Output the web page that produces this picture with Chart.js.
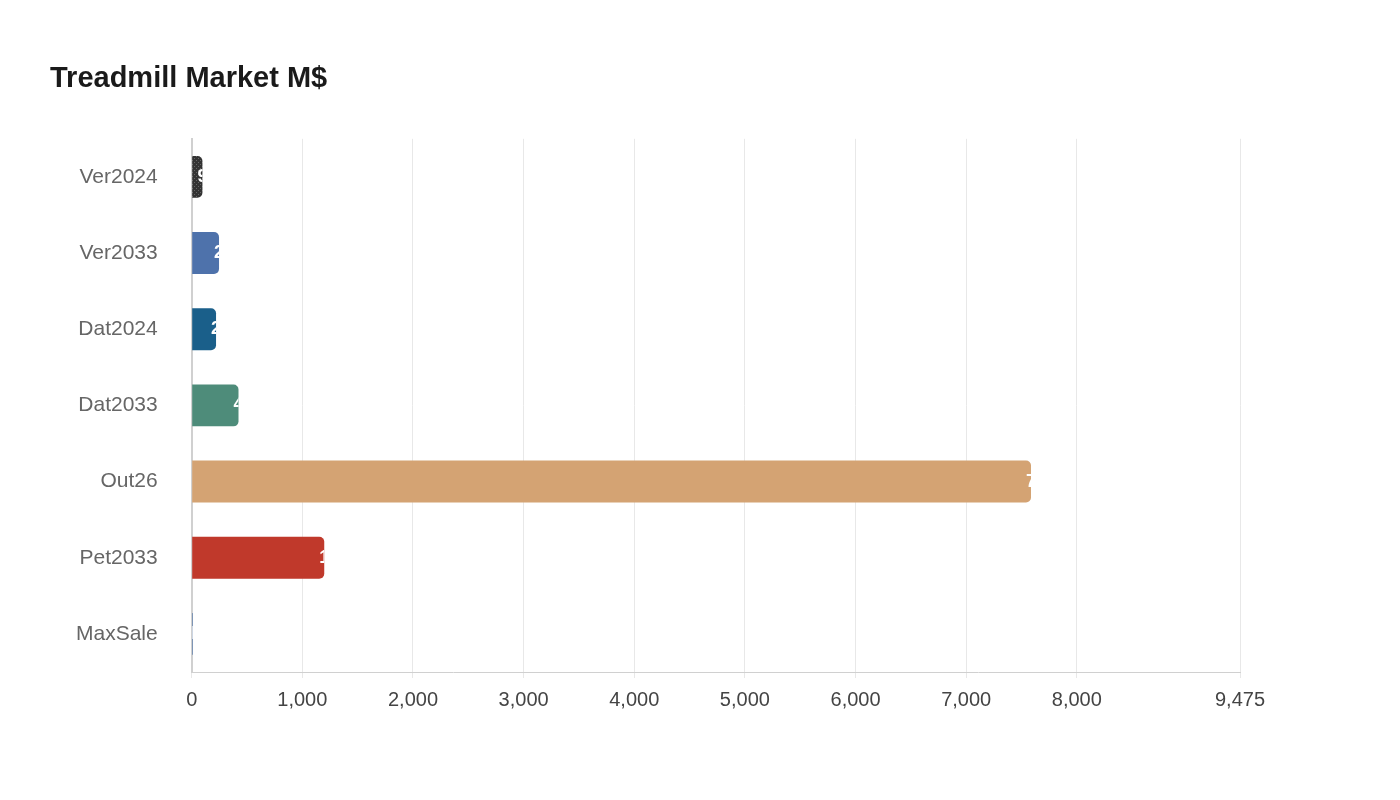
<!DOCTYPE html>
<html><head><meta charset="utf-8">
<script src="https://cdn.jsdelivr.net/npm/chart.js@4"></script>
<style>body{margin:0;background:#fff}#wrap{width:1400px;height:800px}</style>
</head><body><div id="wrap"><canvas id="c"></canvas></div>
<script>
const labels = ["Ver2024", "Ver2033", "Dat2024", "Dat2033", "Out26", "Pet2033", "MaxSale"];
const values = [97, 247, 220, 423, 7586, 1198, 10];
const colors = ["#333333", "#4e72ab", "#1a5f8a", "#4e8c7a", "#d4a373", "#c0392b", "#4a6fa5"];
const tickValues = [0, 1000, 2000, 3000, 4000, 5000, 6000, 7000, 8000, 9475];

function dotPattern(base) {
  const p = document.createElement("canvas");
  p.width = p.height = 4;
  const g = p.getContext("2d");
  g.fillStyle = base; g.fillRect(0, 0, 4, 4);
  g.fillStyle = "#666"; g.fillRect(0, 0, 1, 1); g.fillRect(2, 2, 1, 1);
  return g.createPattern(p, "repeat");
}

const barLabels = {
  id: "barLabels",
  afterDatasetsDraw(chart) {
    const ctx = chart.ctx;
    chart.getDatasetMeta(0).data.forEach((bar, i) => {
      ctx.save();
      ctx.beginPath();
      ctx.rect(bar.base, bar.y - bar.height / 2, bar.x - bar.base, bar.height);
      ctx.clip();
      ctx.fillStyle = "#fff";
      ctx.font = "bold 18px Liberation Sans, Arial";
      ctx.textBaseline = "middle";
      ctx.fillText(values[i].toLocaleString("en-US"), bar.x - 5, bar.y);
      ctx.restore();
    });
  }
};

new Chart(document.getElementById("c"), {
  type: "bar",
  data: {
    labels,
    datasets: [{
      data: values,
      backgroundColor: colors.map((c, i) => i === 0 ? dotPattern(c) : c),
      borderRadius: 5,
      borderSkipped: "start",
      barPercentage: 0.55,
      categoryPercentage: 1
    }]
  },
  plugins: [barLabels],
  options: {
    indexAxis: "y",
    responsive: true,
    maintainAspectRatio: false,
    animation: false,
    layout: { padding: { left: 50, right: 160, top: 62, bottom: 78 } },
    plugins: {
      legend: { display: false },
      tooltip: { enabled: false },
      title: {
        display: true, text: "Treadmill Market M$", align: "start",
        color: "#1a1a1a", font: { family: "Liberation Sans, Arial", size: 29, weight: "bold" },
        padding: { top: 0, bottom: 42 },
        fullSize: true
      }
    },
    scales: {
      x: {
        min: 0, max: 9475,
        afterBuildTicks(s) { s.ticks = tickValues.map(v => ({ value: v })); },
        ticks: {
          color: "#444", font: { family: "Liberation Sans, Arial", size: 20 }, padding: 10,
          callback: v => v.toLocaleString("en-US")
        },
        grid: { color: "#e8e8e8", tickLength: 6 },
        border: { color: "#d0d0d0" }
      },
      y: {
        ticks: { color: "#666", font: { family: "Liberation Sans, Arial", size: 21 }, padding: 26 },
        grid: { display: false },
        border: { color: "#d0d0d0", width: 2 }
      }
    }
  }
});
</script></body></html>
